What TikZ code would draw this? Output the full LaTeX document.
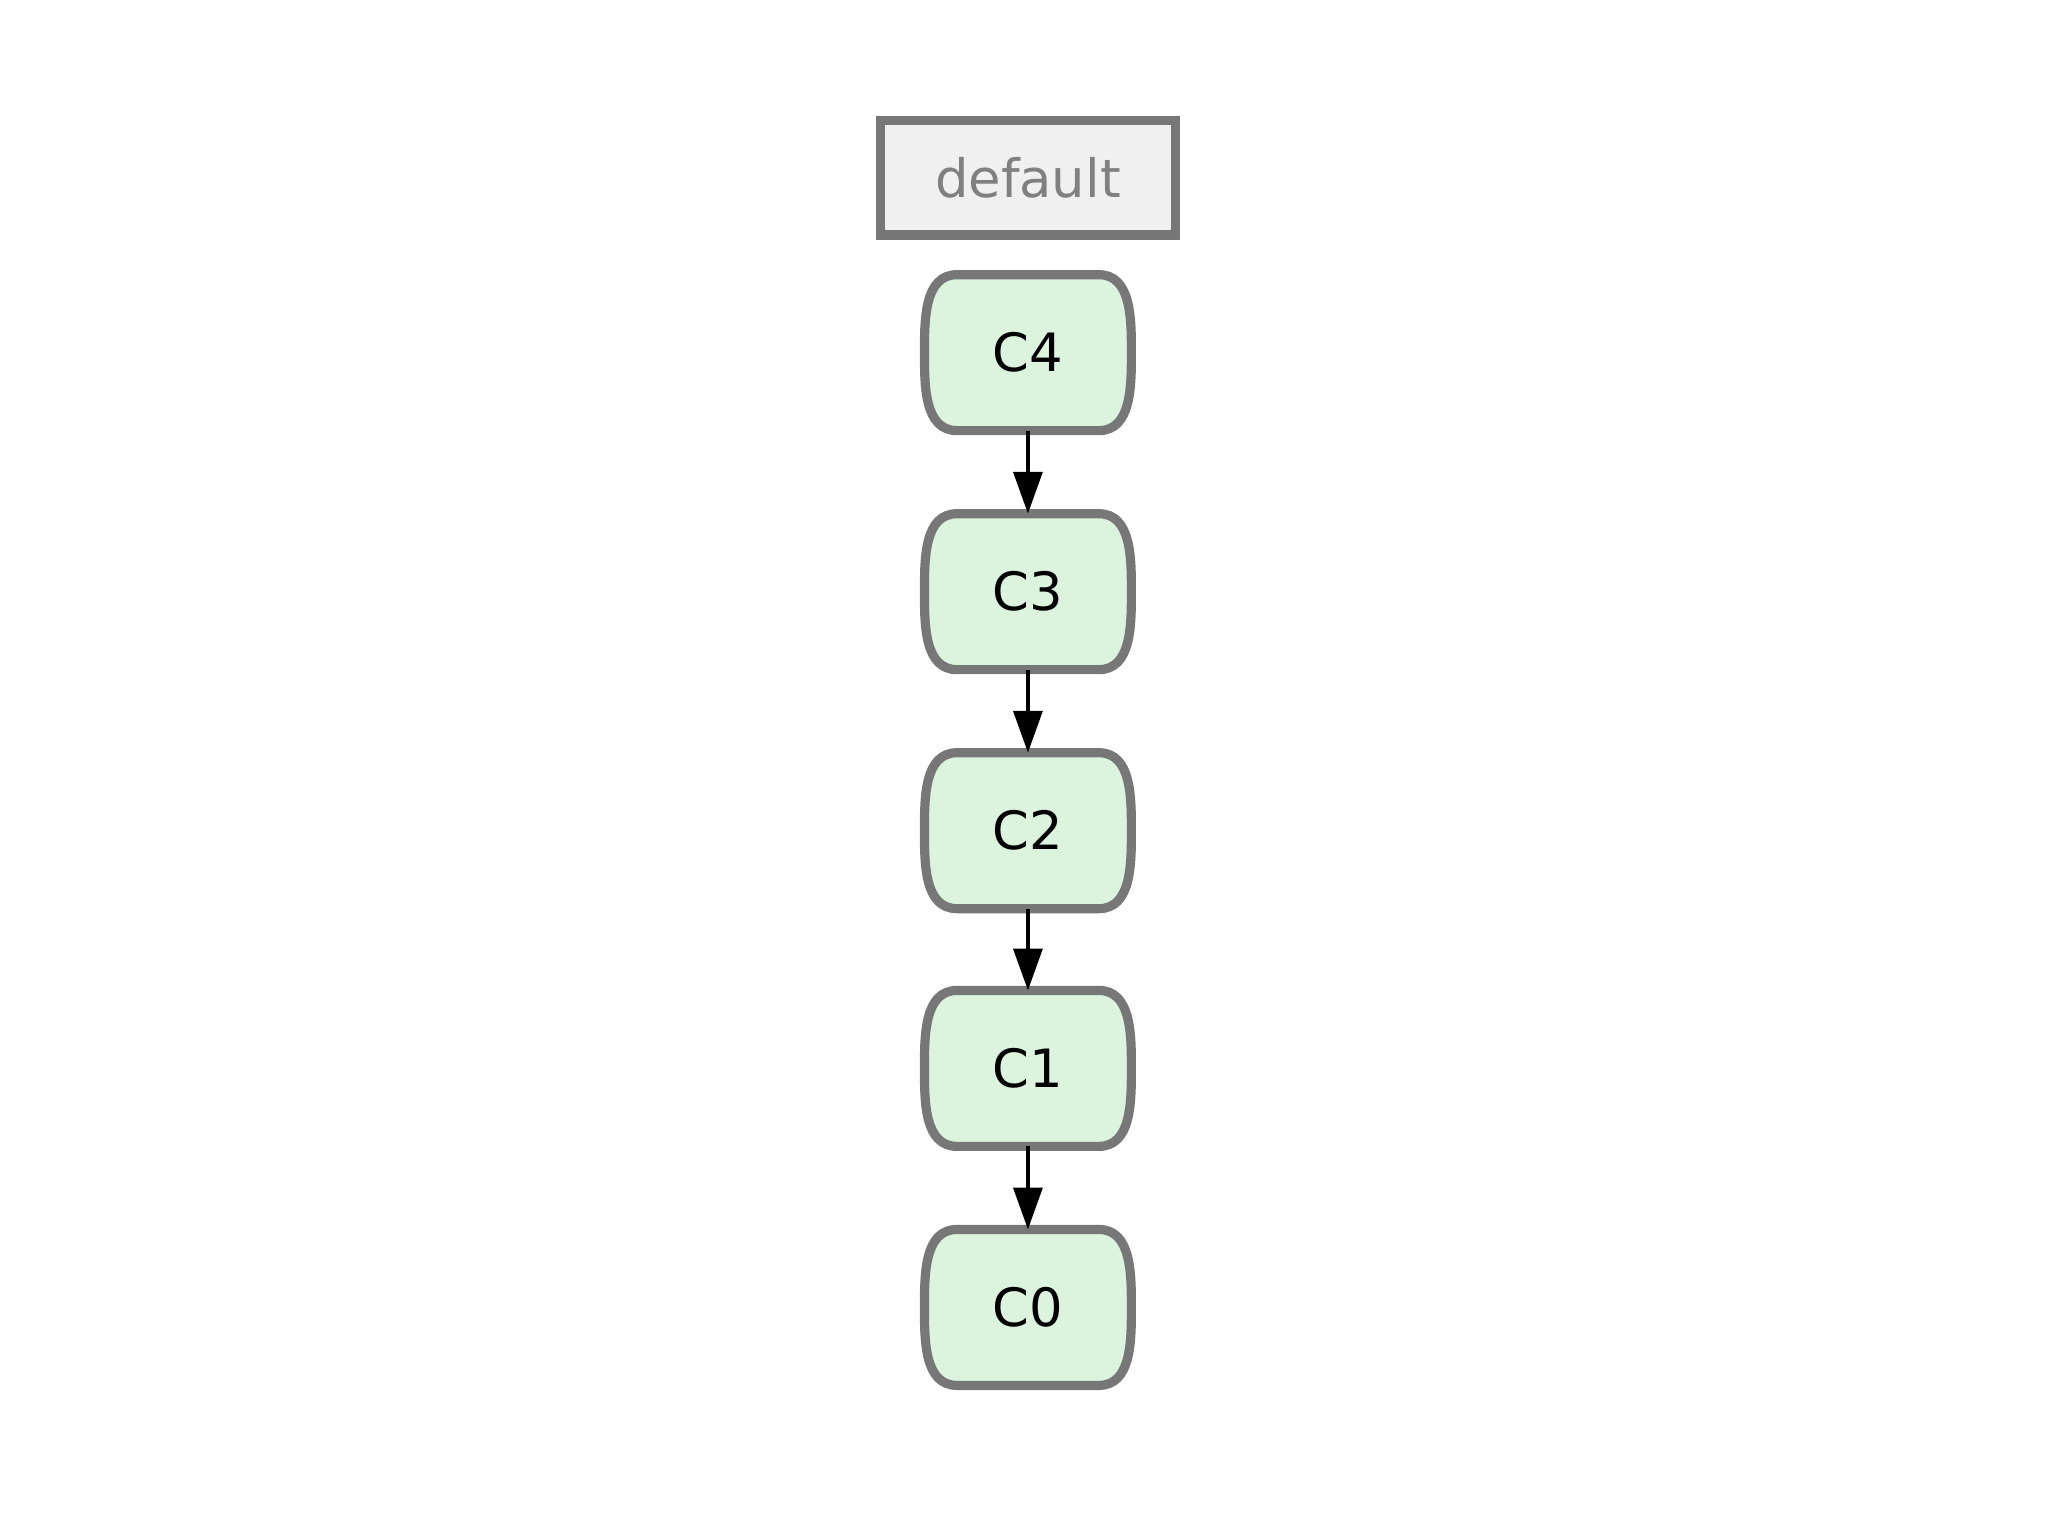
\documentclass[tikz,border=0pt]{standalone}
\usepackage{fontspec}
\setmainfont{DejaVu Sans}
\usetikzlibrary{arrows.meta,backgrounds}
\definecolor{commitfill}{HTML}{DCF3DE}
\definecolor{framegray}{HTML}{777777}
\begin{document}
\begin{tikzpicture}[
      commit/.style={rectangle, minimum width=1.57cm, minimum height=1.18cm,
        inner sep=0pt, font=\fontsize{11.5}{14}\selectfont},
      commitframe/.style={draw=framegray, fill=commitfill, line width=2pt},
      branch/.style={rectangle, draw=framegray, fill=gray!12, line width=2pt,
        minimum width=2.26cm, minimum height=0.88cm,
        text=gray, font=\fontsize{11.5}{14}\selectfont},
      parent/.style={-{Triangle[length=0.32cm,width=0.22cm]}, line width=0.9pt}]

    \useasboundingbox (0,0) rectangle (15.68,-11.76);

    \node[branch] (default) at (7.87,-1.36) {default};

    \node[commit] (c4) at (7.87,-2.70)  {C4};
    \node[commit] (c3) at (7.87,-4.53)  {C3};
    \node[commit] (c2) at (7.87,-6.36)  {C2};
    \node[commit] (c1) at (7.87,-8.18)  {C1};
    \node[commit] (c0) at (7.87,-10.01) {C0};

    % bulging frames behind the commit labels
    \begin{scope}[on background layer]
      \foreach \c in {c4,c3,c2,c1,c0}
        \draw[commitframe] ([xshift=0.25cm]\c.north west) -- ([xshift=-0.25cm]\c.north east)
          to[out=0,in=90] (\c.east) to[out=-90,in=0] ([xshift=-0.25cm]\c.south east)
          -- ([xshift=0.25cm]\c.south west)
          to[out=180,in=-90] (\c.west) to[out=90,in=180] cycle;
    \end{scope}

    \draw[parent] (c4) -- (c3);
    \draw[parent] (c3) -- (c2);
    \draw[parent] (c2) -- (c1);
    \draw[parent] (c1) -- (c0);

  \end{tikzpicture}
\end{document}
